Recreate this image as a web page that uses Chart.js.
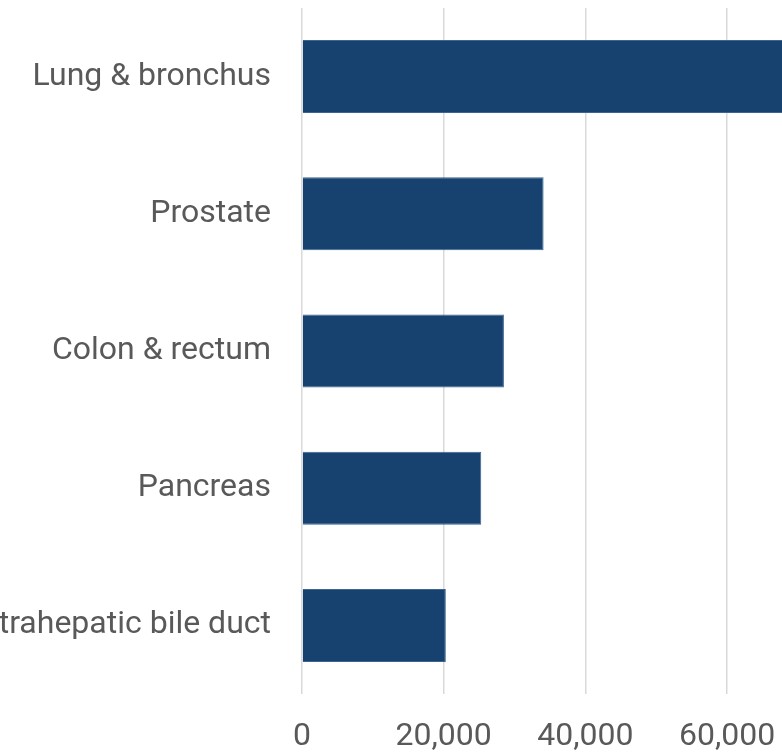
<!DOCTYPE html>
<html>
<head>
<meta charset="utf-8">
<script src="https://cdn.jsdelivr.net/npm/chart.js@4.4.1/dist/chart.umd.min.js"></script>
<style>
    html, body { margin: 0; padding: 0; background: #ffffff; overflow: hidden; }
    #wrap { width: 782px; height: 754px; position: relative; }
</style>
</head>
<body>
<div id="wrap"><canvas id="barras"></canvas></div>
<script>
// Deaths by cancer site (males)
var sites = ['Lung & bronchus', 'Prostate', 'Colon & rectum', 'Pancreas', 'Liver & intrahepatic bile duct'];
var deaths = [68820, 34100, 28500, 25300, 20300];
var tickValues = [0, 20000, 40000, 60000];
var xMax = 67750;

var corTexto = '#595959';
var corBarra = '#17416e';

var ctx = document.getElementById('barras').getContext('2d');

var grafico = new Chart(ctx, {
    type: 'bar',
    data: {
        labels: sites,
        datasets: [{
            label: 'Deaths',
            data: deaths,
            backgroundColor: corBarra,
            borderColor: '#3b6490',
            borderWidth: 1,
            barPercentage: 0.532,
            categoryPercentage: 1
        }]
    },
    options: {
        indexAxis: 'y',
        responsive: true,
        maintainAspectRatio: false,
        animation: false,
        layout: { padding: { top: 8, left: 0, right: 0, bottom: 0 } },
        plugins: {
            legend: { display: false },
            tooltip: { enabled: false }
        },
        scales: {
            x: {
                min: 0,
                max: xMax,
                border: { display: false },
                grid: { color: '#d9d9d9', lineWidth: 1.5, drawTicks: false },
                ticks: {
                    padding: 24,
                    color: corTexto,
                    font: { family: 'Roboto', size: 32 },
                    maxRotation: 0,
                    autoSkip: false,
                    callback: function (v) { return v.toLocaleString('en-US'); }
                },
                afterBuildTicks: function (axis) {
                    axis.ticks = tickValues.map(function (v) { return { value: v }; });
                },
                afterFit: function (axis) {
                    axis.height = 60;
                    axis.paddingLeft = 0;
                    axis.paddingRight = 0;
                }
            },
            y: {
                border: { display: false },
                grid: { display: false, drawTicks: false },
                ticks: {
                    padding: 31,
                    color: corTexto,
                    font: { family: 'Roboto', size: 32 }
                },
                afterFit: function (axis) {
                    axis.width = 302;
                    axis.paddingTop = 0;
                    axis.paddingBottom = 0;
                }
            }
        }
    }
});
</script>
</body>
</html>
